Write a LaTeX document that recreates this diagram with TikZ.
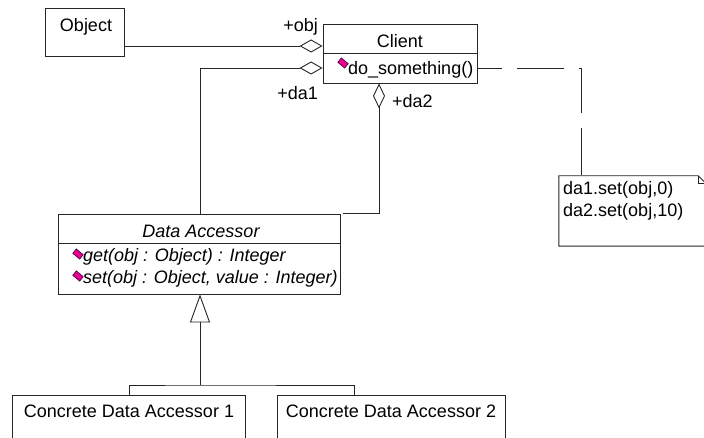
\documentclass[tikz,border=0pt]{standalone}
\usepackage{fontspec}
\setmainfont{Liberation Sans}
\usetikzlibrary{arrows.meta,calc}
\newcommand\umlopicon[1]{%
  \filldraw[fill=magenta, draw=violet!60!black, line width=0.7pt, shift={(#1)}, rotate=-40]
    (-4.5pt,-2.8pt) rectangle (4.5pt,2.8pt);}
\begin{document}
\begin{tikzpicture}[x=1pt,y=-1pt,
  box/.style={draw=black!85, line width=0.9pt, inner sep=0pt, fill=white},
  lbl/.style={inner sep=0pt, font=\fontsize{18}{21}\selectfont},
  ilbl/.style={lbl, font=\fontsize{18}{21}\selectfont\itshape},
  conn/.style={draw=black!85, line width=0.9pt},
  agg/.style={conn, {Diamond[open, length=23pt, width=13pt]}-},
  aggv/.style={conn, {Diamond[open, length=25pt, width=12pt]}-},
  inh/.style={conn, {Triangle[open, length=28pt, width=20pt]}-},
  notelink/.style={conn, dash pattern=on 47pt off 15pt, dash phase=22pt}]
\useasboundingbox (0,0) rectangle (704,438);
\clip (0,0) rectangle (704,438);

% boxes
\node[box, minimum width=79pt, minimum height=48pt] (object) at (84.5,32) {};
\node[box, minimum width=154pt, minimum height=59pt] (client) at (400,53.5) {};
\node[box, minimum width=282pt, minimum height=80pt] (da) at (199,254) {};
\node[box, minimum width=233pt, minimum height=65pt] (cda1) at (128.5,427.5) {};
\node[box, minimum width=228pt, minimum height=65pt] (cda2) at (391,427.5) {};
\node[minimum width=147pt, minimum height=70pt, inner sep=0pt] (note) at (632.5,211) {};

% compartments
\draw[conn] (client.west) -- (client.east);
\draw[conn] ([yshift=11pt]da.west) -- ([yshift=11pt]da.east);

% note outline with folded corner
\draw[conn, fill=white] (note.north west) -- ([xshift=-8pt]note.north east)
  -- ([yshift=-8pt]note.north east) -- (note.south east) -- (note.south west) -- cycle;
\draw[conn] ([xshift=-8pt]note.north east) |- ([yshift=-8pt]note.north east);

% texts
\node[lbl, anchor=base] (tobject) at (86,32) {Object};
\node[lbl, anchor=base] (tclient) at (400,48) {Client};
\node[lbl, anchor=base west] (tdo) at (348,75) {do\_something()};
\node[ilbl, anchor=base] (tda) at (201,237.5) {Data Accessor};
\node[ilbl, anchor=base west] (tget) at (83,262) {get(obj : Object) : Integer};
\node[ilbl, anchor=base west] (tset) at (83,283.5) {set(obj : Object, value : Integer)};
\node[lbl, anchor=base] (tcda1) at (129,417) {Concrete Data Accessor 1};
\node[lbl, anchor=base] (tcda2) at (391,417) {Concrete Data Accessor 2};
\node[lbl, anchor=base west] (tn1) at (563,195) {da1.set(obj,0)};
\node[lbl, anchor=base west] (tn2) at (563,216.5) {da2.set(obj,10)};

% role labels
\node[lbl, anchor=base east] (lobj) at (318,32) {+obj};
\node[lbl, anchor=base east] (lda1) at (318,100) {+da1};
\node[lbl, anchor=base west] (lda2) at (392,108) {+da2};

% operation icons
\umlopicon{343,63}
\umlopicon{78,254}
\umlopicon{78,276}

% connectors
\draw[agg] ([yshift=7.5pt]client.west) -- ([yshift=-14pt]object.east);
\draw[agg] ([yshift=-14.5pt]client.west) -| ([xshift=1pt]da.north);
\draw[aggv] ([xshift=-21pt]client.south) |- ([xshift=3pt]da.north east);
\coordinate (gen) at (200,385);
\draw[inh] ([xshift=1pt]da.south) -- (gen);
\draw[conn] ([xshift=0.5pt]cda1.north) |- (gen) -| ([xshift=-37pt]cda2.north);
\draw[notelink] ([yshift=-14.5pt]client.east) -| ([xshift=-51.5pt]note.north);
\end{tikzpicture}
\end{document}
